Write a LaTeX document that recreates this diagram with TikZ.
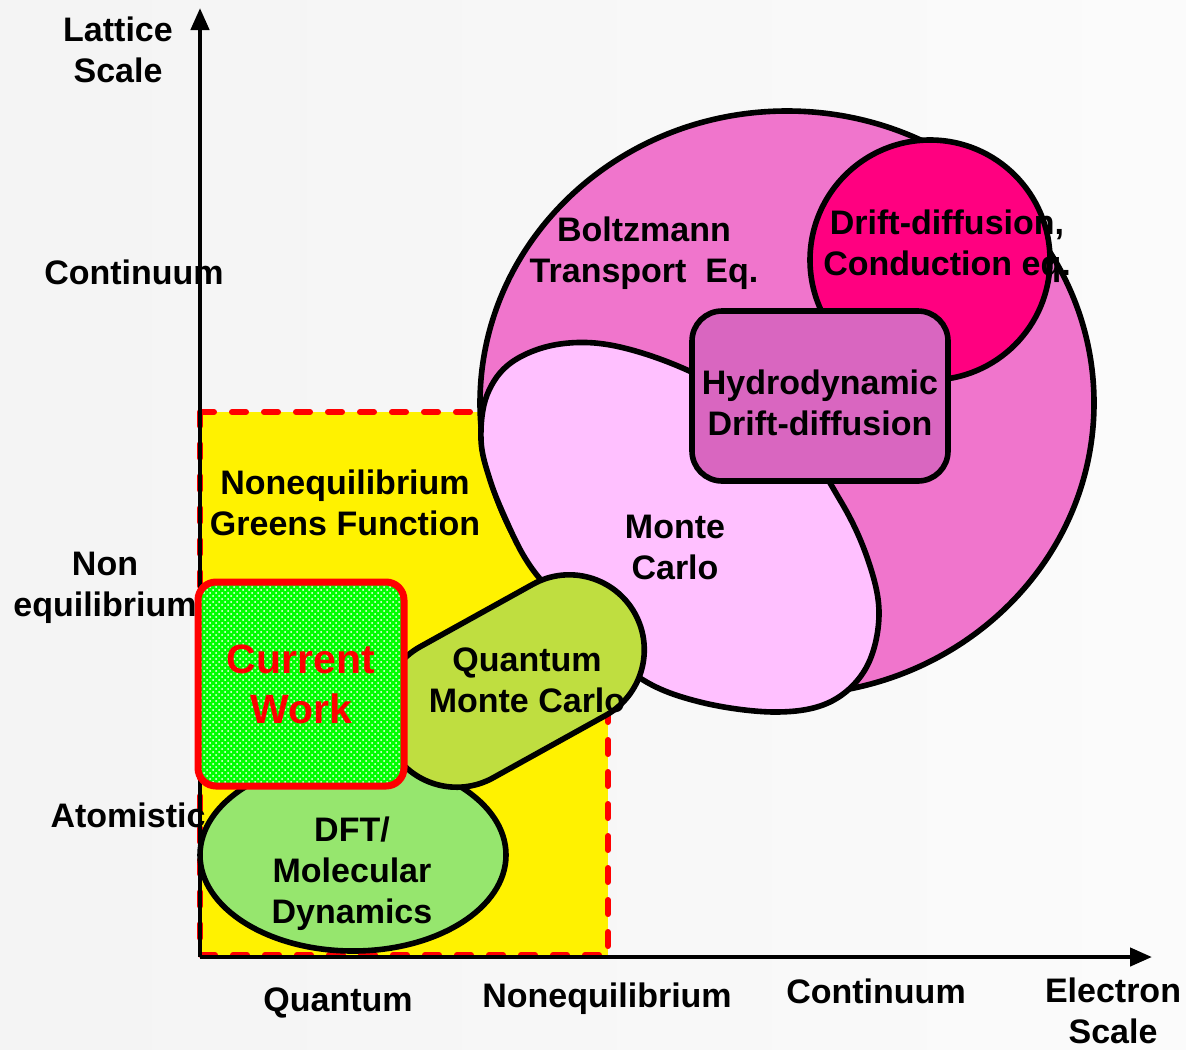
\documentclass[tikz,border=0pt]{standalone}
\usepackage{fontspec}
\setmainfont{Liberation Sans}
\usepackage{tikz}
\usetikzlibrary{shapes.geometric, shapes.misc, arrows.meta, positioning, patterns}
\definecolor{bigpink}{RGB}{240,117,204}
\definecolor{driftpink}{RGB}{255,0,128}
\definecolor{hydroorchid}{RGB}{217,102,192}
\definecolor{mclight}{RGB}{255,192,255}
\definecolor{qmcgreen}{RGB}{191,222,64}
\definecolor{dftgreen}{RGB}{150,230,110}
\definecolor{cwgreen}{RGB}{0,255,0}

\begin{document}
\begin{tikzpicture}[
  x=0.5pt, y=-0.5pt,
  outl/.style={draw=black, line width=2.8pt},
  lbl/.style={font=\fontsize{17}{20.5}\selectfont\bfseries, align=center, inner sep=0pt},
  axis/.style={line width=2.2pt, -{Triangle[length=11pt, width=9pt]}},
  ngfrect/.style={fill=yellow, draw=red, line width=3pt,
                  dash pattern=on 7pt off 9pt, line cap=round},
  hydrobox/.style={rectangle, rounded corners=15pt, outl, fill=hydroorchid,
                   minimum width=128pt, minimum height=85pt},
  qmcshape/.style={rounded rectangle, outl, fill=qmcgreen, rotate=29,
                   minimum width=146pt, minimum height=75pt},
  dftshape/.style={ellipse, outl, fill=dftgreen, inner sep=0pt},
  cwbox/.style={rectangle, rounded corners=9pt, draw=red, line width=3.5pt,
                preaction={fill=cwgreen},
                preaction={pattern=crosshatch dots, pattern color=white},
                minimum width=103pt, minimum height=102pt,
                font=\fontsize{20.5}{25}\selectfont\bfseries, text=red, align=center},
]
  \useasboundingbox (0,0) rectangle (1186,1049);
  \shade[left color=gray!9, right color=gray!3] (0,0) rectangle (1186,1049);

  % quantum / nonequilibrium region
  \draw[ngfrect] (200,412) rectangle (608,955);

  % axes
  \coordinate (origin) at (200,957);
  \coordinate (ytop)   at (200,8);
  \coordinate (xend)   at (1152,957);
  \draw[axis] (origin) -- (ytop);
  \draw[axis] (origin) -- (xend);

  % continuum shapes
  \draw[outl, fill=bigpink] (787,403) ellipse [x radius=307, y radius=292];
  \draw[outl, fill=driftpink] (930,260) circle [radius=120];
  \draw[outl, fill=mclight] plot[smooth cycle, tension=0.6] coordinates {
    (481,440) (487,395) (512,362) (560,344) (620,347) (700,376) (790,430)
    (840,500) (868,560) (879,615) (866,668) (830,702) (775,712) (700,702)
    (640,678) (590,630) (548,588) (525,558) (506,520) (490,480)};
  \node[hydrobox] (hydro) at (820,396) {};

  % atomistic shapes
  \node[dftshape, minimum width=153pt, minimum height=96pt] (dft) at (353,855) {};
  \node[qmcshape] (qmc) at (513,681) {};
  \node[cwbox] (cw) at (301,684) {Current\\Work};

  % axis labels
  \node[lbl] (lattice)  at (118,50)   {Lattice\\Scale};
  \node[lbl] (ycont)    at (134,272)  {Continuum};
  \node[lbl] (ynoneq)   at (105,588)  {Non\\equilibrium};
  \node[lbl] (yatom)    at (128,815)  {Atomistic};
  \node[lbl] (xquant)   at (338,1003) {Quantum};
  \node[lbl] (xnoneq)   at (607,999)  {Nonequilibrium};
  \node[lbl] (xcont)    at (876,991)  {Continuum};
  \node[lbl] (electron) at (1113,1011) {Electron\\Scale};

  % region labels
  \node[lbl] (bte)      at (644,253) {Boltzmann\\Transport\ \ Eq.};
  \node[lbl] (ddtxt)    at (947,246) {Drift-diffusion,\\Conduction eq.};
  \node[lbl] (hydrotxt) at (820,403) {Hydrodynamic\\Drift-diffusion};
  \node[lbl] (mctxt)    at (675,547) {Monte\\Carlo};
  \node[lbl] (negf)     at (345,503) {Nonequilibrium\\Greens Function};
  \node[lbl] (qmctxt)   at (527,680) {Quantum\\Monte Carlo};
  \node[lbl] (dfttxt)   at (352,874) {DFT/\\Molecular\\Dynamics};
\end{tikzpicture}
\end{document}
